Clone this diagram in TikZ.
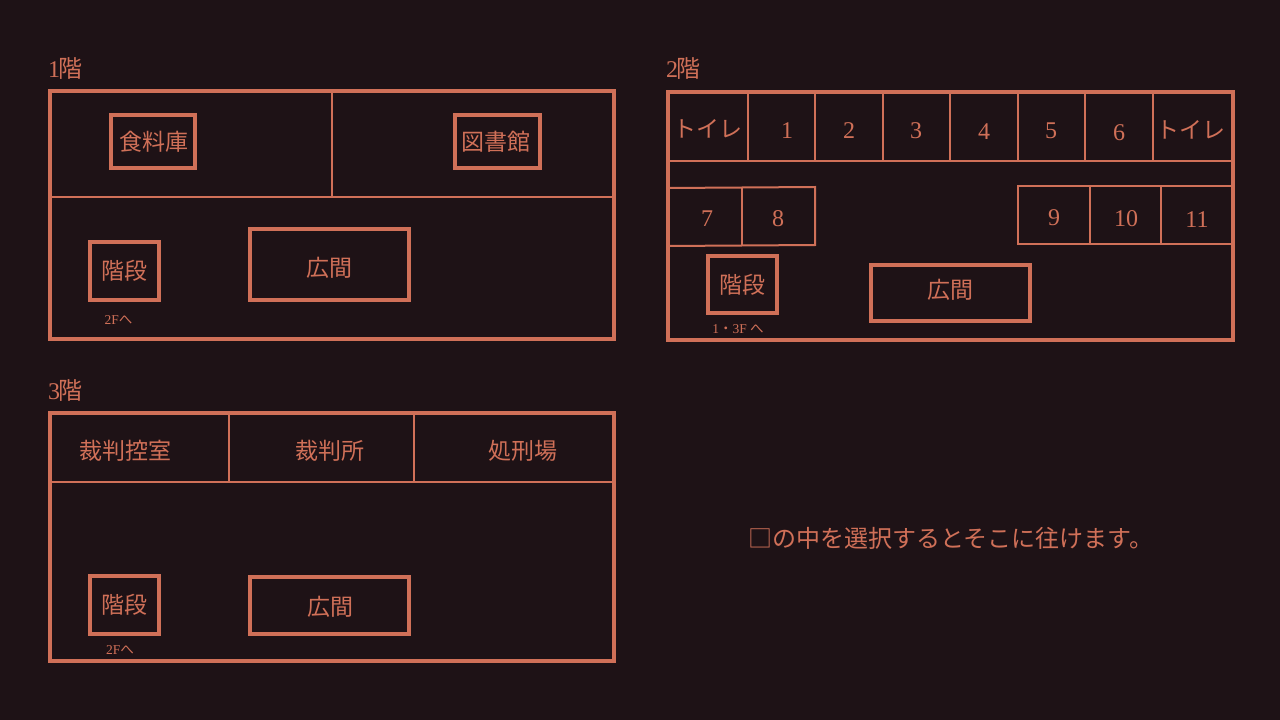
\documentclass[tikz,border=0pt]{standalone}
\usepackage{fontspec}
\setmainfont{Liberation Serif}
\newfontfamily\jpfont{Noto Sans CJK JP}
\usetikzlibrary{positioning}
\definecolor{RoomLine}{RGB}{208,112,88}
\definecolor{NightBg}{RGB}{30,18,22}

\begin{document}
\begin{tikzpicture}[
    x=1pt, y=-1pt,
    floor/.style={draw=RoomLine, line width=4pt, inner sep=0pt, outer sep=0pt, minimum width=564pt, minimum height=248pt},
    room/.style={draw=RoomLine, line width=4pt, inner sep=0pt, outer sep=0pt, text=RoomLine, font=\fontsize{23}{27}\selectfont\jpfont},
    wall/.style={RoomLine, line width=2pt},
    tag/.style={text=RoomLine, inner sep=0pt, font=\fontsize{23}{27}\selectfont\jpfont},
    num/.style={text=RoomLine, inner sep=0pt, font=\fontsize{24}{28}\selectfont},
    note/.style={text=RoomLine, inner sep=0pt, font=\fontsize{13.5}{16}\selectfont},
    heading/.style={text=RoomLine, inner sep=0pt, anchor=west, font=\fontsize{24}{28}\selectfont}
  ]
  \fill[NightBg] (0,0) rectangle (1280,720);
  \useasboundingbox (0,0) rectangle (1280,720);

  \node (floorA) [floor] at (332,215) {};
  \node (floorB) [floor, minimum width=565pt] at (950.5,216) {};
  \node (floorC) [floor] at (332,537) {};

  \node (headA) [heading] at (48,69) {1\kern-1.5pt{\jpfont 階}};
  \node (headB) [heading] at (666,69) {2\kern-1.5pt{\jpfont 階}};
  \node (headC) [heading] at (48,391) {3\kern-1.5pt{\jpfont 階}};

  % first floor
  \draw[wall] (50,197) -- (614,197);
  \draw[wall] (332,91) -- (332,197);
  \node (pantry) [room, minimum width=84pt, minimum height=53pt] at (153,141) {};
  \node (pantrytext) [tag] at (154,142) {食料庫};
  \node (library) [room, minimum width=85pt, minimum height=53pt] at (497.5,141) {};
  \node (librarytext) [tag] at (496,142) {図書館};
  \node (stairsA) [room, minimum width=69pt, minimum height=58pt] at (124.5,270.5) {階段};
  \node (hallA) [room, minimum width=159pt, minimum height=71pt] at (329.5,264.5) {};
  \node (hallAtext) [tag] at (329.5,268) {広間};
  \node (noteA) [note] at (118.5,320) {2F{\jpfont へ}};

  % second floor
  \draw[wall] (668,161) -- (1233,161);
  \foreach \wx in {748,815,883,950,1018,1085,1153}
    \draw[wall] (\wx,92) -- (\wx,161);
  \node (toiletL) [tag] at (708,129) {トイレ};
  \node (toiletR) [tag] at (1191,130) {トイレ};
  \foreach \cx/\cy/\cname in {787/131/1, 849/131/2, 916/131/3, 984/132/4, 1051/131/5, 1119/133/6, 707/219/7, 778/219/8, 1054/218/9, 1126/219/10, 1197/220/11}
    \node (cell\cname) [num] at (\cx,\cy) {\cname};
  \draw[wall] (668,188) -- (815,187) -- (815,245) -- (668,246);
  \draw[wall] (742,188) -- (742,245);
  \draw[wall] (1233,186) -- (1018,186) -- (1018,244) -- (1233,244);
  \draw[wall] (1090,186) -- (1090,244);
  \draw[wall] (1161,186) -- (1161,244);
  \node (stairsB) [room, minimum width=69pt, minimum height=57pt] at (742.5,284.5) {階段};
  \node (hallB) [room, minimum width=159pt, minimum height=56pt] at (950.5,293) {};
  \node (hallBtext) [tag] at (950,290) {広間};
  \node (noteB) [note] at (738,329) {1{\jpfont ・}3F {\jpfont へ}};

  % third floor
  \draw[wall] (50,482) -- (614,482);
  \draw[wall] (229,413) -- (229,482);
  \draw[wall] (414,413) -- (414,482);
  \node (waiting) [tag] at (125,451) {裁判控室};
  \node (court) [tag] at (330,451) {裁判所};
  \node (execution) [tag] at (522.5,451) {処刑場};
  \node (stairsC) [room, minimum width=69pt, minimum height=58pt] at (124.5,605) {階段};
  \node (hallC) [room, minimum width=159pt, minimum height=57pt] at (329.5,605.5) {};
  \node (hallCtext) [tag] at (330,607) {広間};
  \node (noteC) [note] at (120,650) {2F{\jpfont へ}};

  \node (hint) [tag, font=\fontsize{24}{28}\selectfont\jpfont] at (951,538) {□の中を選択するとそこに往けます。};
\end{tikzpicture}
\end{document}
